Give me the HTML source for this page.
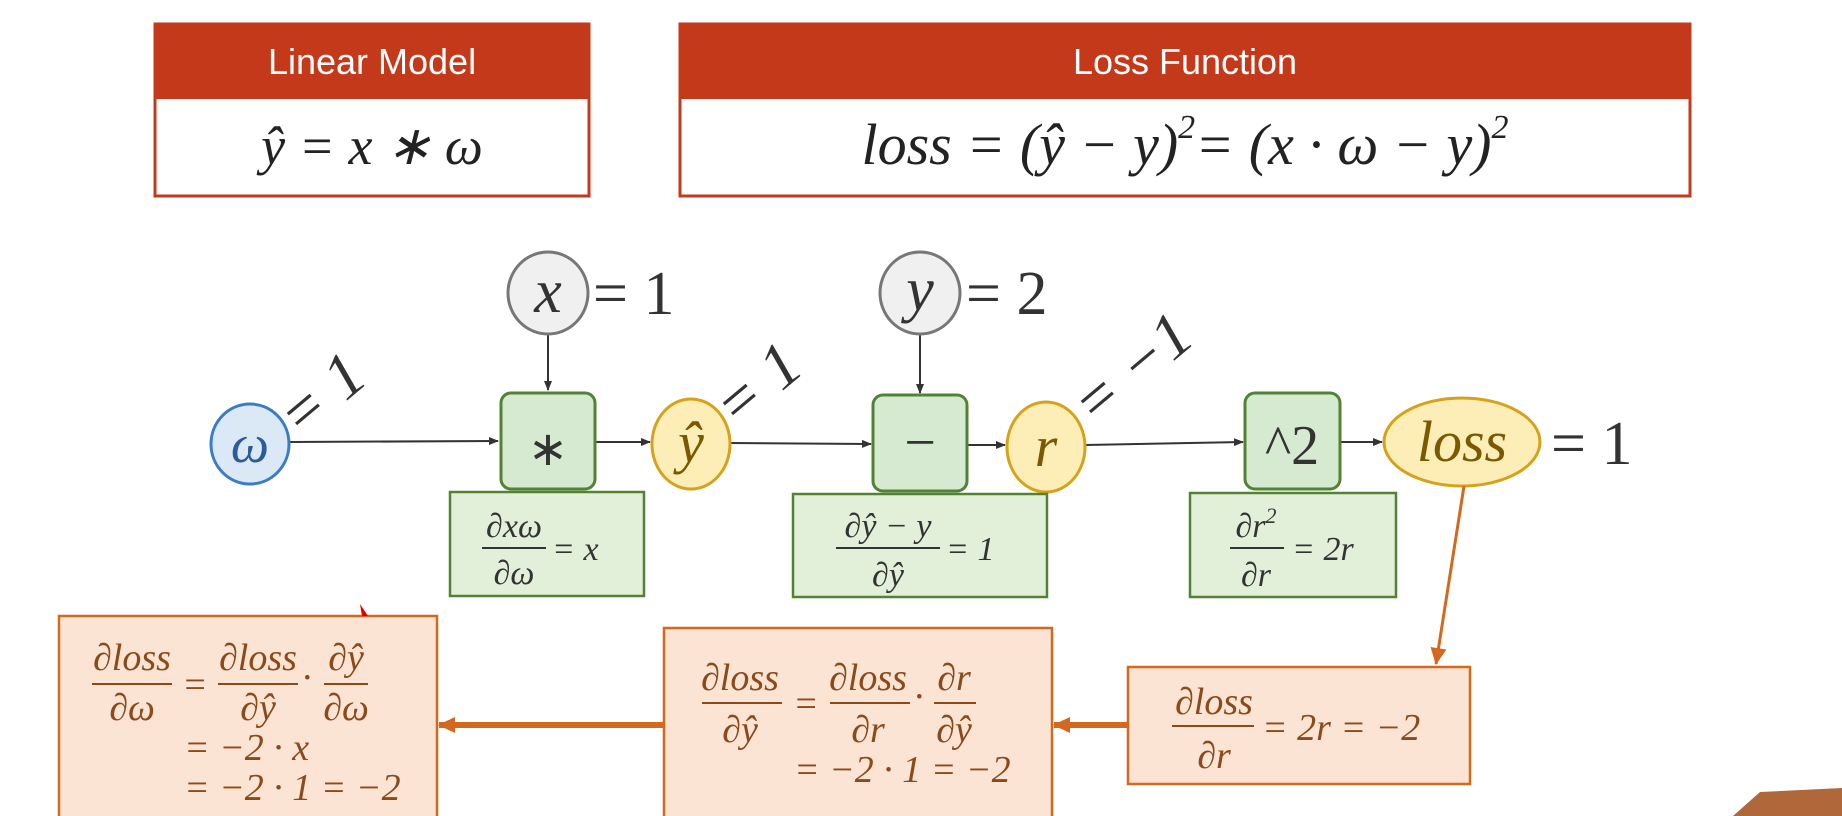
<!DOCTYPE html>
<html><head><meta charset="utf-8"><style>
html,body{margin:0;padding:0;background:#fff;}
svg{display:block;}
.m{font-family:"Liberation Serif",serif;font-style:italic;}
.n{font-family:"Liberation Serif",serif;}
.s{font-family:"Liberation Sans",sans-serif;}
</style></head><body>
<svg width="1842" height="816" viewBox="0 0 1842 816" xmlns="http://www.w3.org/2000/svg">
<defs>
<marker id="a" markerWidth="10" markerHeight="10" refX="9" refY="5" orient="auto" markerUnits="userSpaceOnUse"><path d="M0,1 L10,5 L0,9 z" fill="#333"/></marker>
<marker id="o" markerWidth="18" markerHeight="18" refX="16" refY="9" orient="auto" markerUnits="userSpaceOnUse"><path d="M0,1 L17,9 L0,17 z" fill="#d2691e"/></marker>
</defs>
<rect x="155" y="24" width="434" height="172" fill="#fff" stroke="#c4391a" stroke-width="3"/>
<rect x="155" y="24" width="434" height="75" fill="#c4391a"/>
<text x="372" y="74" text-anchor="middle" class="s" font-size="36" fill="#fff">Linear Model</text>
<text x="372" y="164" text-anchor="middle" class="m" font-size="54" fill="#222">ŷ = x ∗ ω</text>
<rect x="680" y="24" width="1010" height="172" fill="#fff" stroke="#c4391a" stroke-width="3"/>
<rect x="680" y="24" width="1010" height="75" fill="#c4391a"/>
<text x="1185" y="74" text-anchor="middle" class="s" font-size="36" fill="#fff">Loss Function</text>
<text x="1185" y="164" text-anchor="middle" class="m" font-size="58" fill="#222">loss = (ŷ − y)<tspan font-size="34" dy="-26">2</tspan><tspan dy="26">= (x · ω − y)</tspan><tspan font-size="34" dy="-26">2</tspan></text>

<g stroke="#333" stroke-width="2" fill="none">
<line x1="290" y1="442" x2="498" y2="441" marker-end="url(#a)"/>
<line x1="595" y1="442" x2="650" y2="442" marker-end="url(#a)"/>
<line x1="731" y1="443" x2="871" y2="444" marker-end="url(#a)"/>
<line x1="967" y1="445" x2="1005" y2="445" marker-end="url(#a)"/>
<line x1="1086" y1="445" x2="1243" y2="442" marker-end="url(#a)"/>
<line x1="1340" y1="442" x2="1382" y2="442" marker-end="url(#a)"/>
<line x1="548" y1="333" x2="548" y2="390" marker-end="url(#a)"/>
<line x1="920" y1="333" x2="920" y2="393" marker-end="url(#a)"/>
</g>
<ellipse cx="250" cy="444" rx="39" ry="40" fill="#dbe8f6" stroke="#3b7dc4" stroke-width="3"/>
<text x="250" y="462" text-anchor="middle" class="m" font-size="54" fill="#2a5b9a">ω</text>
<ellipse cx="548" cy="293" rx="40" ry="41" fill="#f0f0f0" stroke="#777" stroke-width="3"/>
<text x="548" y="312" text-anchor="middle" class="m" font-size="62" fill="#333">x</text>
<text x="593" y="314" class="n" font-size="62" fill="#333">= 1</text>
<ellipse cx="920" cy="293" rx="40" ry="41" fill="#f0f0f0" stroke="#777" stroke-width="3"/>
<text x="920" y="310" text-anchor="middle" class="m" font-size="62" fill="#333">y</text>
<text x="966" y="314" class="n" font-size="62" fill="#333">= 2</text>
<rect x="501" y="393" width="94" height="96" rx="10" fill="#d5ead0" stroke="#548235" stroke-width="3"/>
<text x="548" y="465" text-anchor="middle" class="n" font-size="48" fill="#333">∗</text>
<ellipse cx="691" cy="444" rx="39" ry="45" fill="#fdeeb8" stroke="#d6a21a" stroke-width="3"/>
<text x="691" y="462" text-anchor="middle" class="m" font-size="58" fill="#7a5a00">ŷ</text>
<rect x="873" y="395" width="94" height="96" rx="10" fill="#d5ead0" stroke="#548235" stroke-width="3"/>
<text x="920" y="461" text-anchor="middle" class="n" font-size="56" fill="#333">−</text>
<ellipse cx="1046" cy="447" rx="39" ry="45" fill="#fdeeb8" stroke="#d6a21a" stroke-width="3"/>
<text x="1046" y="466" text-anchor="middle" class="m" font-size="58" fill="#7a5a00">r</text>
<rect x="1245" y="393" width="95" height="96" rx="10" fill="#d5ead0" stroke="#548235" stroke-width="3"/>
<text x="1292" y="464" text-anchor="middle" class="n" font-size="56" fill="#333">^2</text>
<ellipse cx="1462" cy="442" rx="78" ry="44" fill="#fdeeb8" stroke="#d6a21a" stroke-width="3"/>
<text x="1462" y="461" text-anchor="middle" class="m" font-size="58" fill="#7a5a00">loss</text>
<text x="1551" y="464" class="n" font-size="62" fill="#333">= 1</text>
<text transform="translate(300,440) rotate(-40)" class="m" font-size="64" fill="#333">= 1</text>
<text transform="translate(736,430) rotate(-40)" class="m" font-size="64" fill="#333">= 1</text>
<text transform="translate(1094,428) rotate(-40)" class="m" font-size="64" fill="#333">= −1</text>

<g class="m" fill="#333">
<rect x="450" y="492" width="194" height="104" fill="#e2f0da" stroke="#548235" stroke-width="2.5"/>
<text x="514" y="537" text-anchor="middle" font-size="34">∂xω</text>
<line x1="482" y1="548" x2="546" y2="548" stroke="#333" stroke-width="2"/>
<text x="514" y="584" text-anchor="middle" font-size="34">∂ω</text>
<text x="552" y="560" font-size="34">= x</text>
<rect x="793" y="494" width="254" height="103" fill="#e2f0da" stroke="#548235" stroke-width="2.5"/>
<text x="888" y="537" text-anchor="middle" font-size="34">∂ŷ − y</text>
<line x1="836" y1="548" x2="940" y2="548" stroke="#333" stroke-width="2"/>
<text x="888" y="586" text-anchor="middle" font-size="34">∂ŷ</text>
<text x="946" y="560" font-size="34">= 1</text>
<rect x="1190" y="493" width="206" height="104" fill="#e2f0da" stroke="#548235" stroke-width="2.5"/>
<text x="1256" y="537" text-anchor="middle" font-size="34">∂r<tspan font-size="22" dy="-14">2</tspan></text>
<line x1="1230" y1="548" x2="1284" y2="548" stroke="#333" stroke-width="2"/>
<text x="1256" y="586" text-anchor="middle" font-size="34">∂r</text>
<text x="1292" y="560" font-size="34">= 2r</text>
</g>

<g class="m" fill="#8a4a1a">
<rect x="59" y="616" width="378" height="210" fill="#fce4d4" stroke="#d2691e" stroke-width="2.5"/>
<text x="132" y="670" text-anchor="middle" font-size="38">∂loss</text>
<line x1="92" y1="684" x2="172" y2="684" stroke="#8a4a1a" stroke-width="2"/>
<text x="132" y="720" text-anchor="middle" font-size="38">∂ω</text>
<text x="182" y="697" class="n" font-size="38">=</text>
<text x="258" y="670" text-anchor="middle" font-size="38">∂loss</text>
<line x1="218" y1="684" x2="298" y2="684" stroke="#8a4a1a" stroke-width="2"/>
<text x="258" y="720" text-anchor="middle" font-size="38">∂ŷ</text>
<text x="302" y="690" class="n" font-size="38">·</text>
<text x="346" y="670" text-anchor="middle" font-size="38">∂ŷ</text>
<line x1="324" y1="684" x2="368" y2="684" stroke="#8a4a1a" stroke-width="2"/>
<text x="346" y="720" text-anchor="middle" font-size="38">∂ω</text>
<text x="184" y="760" font-size="38">= −2 · x</text>
<text x="184" y="800" font-size="38">= −2 · 1 = −2</text>

<rect x="664" y="628" width="388" height="200" fill="#fce4d4" stroke="#d2691e" stroke-width="2.5"/>
<text x="740" y="690" text-anchor="middle" font-size="38">∂loss</text>
<line x1="702" y1="703" x2="782" y2="703" stroke="#8a4a1a" stroke-width="2"/>
<text x="740" y="742" text-anchor="middle" font-size="38">∂ŷ</text>
<text x="793" y="716" class="n" font-size="38">=</text>
<text x="868" y="690" text-anchor="middle" font-size="38">∂loss</text>
<line x1="830" y1="703" x2="910" y2="703" stroke="#8a4a1a" stroke-width="2"/>
<text x="868" y="742" text-anchor="middle" font-size="38">∂r</text>
<text x="914" y="709" class="n" font-size="38">·</text>
<text x="954" y="690" text-anchor="middle" font-size="38">∂r</text>
<line x1="934" y1="703" x2="976" y2="703" stroke="#8a4a1a" stroke-width="2"/>
<text x="954" y="742" text-anchor="middle" font-size="38">∂ŷ</text>
<text x="794" y="782" font-size="38">= −2 · 1 = −2</text>

<rect x="1128" y="667" width="342" height="117" fill="#fce4d4" stroke="#d2691e" stroke-width="2.5"/>
<text x="1214" y="714" text-anchor="middle" font-size="38">∂loss</text>
<line x1="1172" y1="726" x2="1254" y2="726" stroke="#8a4a1a" stroke-width="2"/>
<text x="1214" y="768" text-anchor="middle" font-size="38">∂r</text>
<text x="1262" y="740" font-size="38">= 2r = −2</text>
</g>
<g stroke="#d2691e" fill="none">
<line x1="1464" y1="486" x2="1436" y2="664" stroke-width="3" marker-end="url(#o)"/>
<line x1="1128" y1="725" x2="1054" y2="725" stroke-width="6" marker-end="url(#o)"/>
<line x1="664" y1="725" x2="439" y2="725" stroke-width="6" marker-end="url(#o)"/>
</g>
<path d="M360,604 L368,616 L362,616 z" fill="#d00"/>
<path d="M1733,816 L1760,792 L1842,788 L1842,816 z" fill="#b0683a"/>
</svg>
</body></html>
